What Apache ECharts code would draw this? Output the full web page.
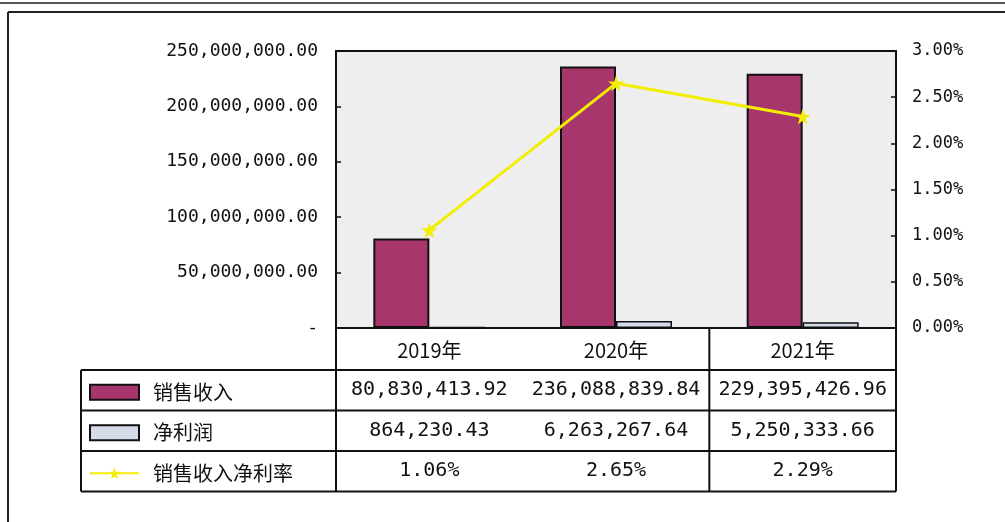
<!DOCTYPE html>
<html>
<head>
<meta charset="utf-8">
<script src="https://cdn.jsdelivr.net/npm/echarts@6/dist/echarts.min.js"></script>
<style>
html,body{margin:0;padding:0;background:#fff;}
#chart{width:1005px;height:522px;}
</style>
</head>
<body>
<div id="chart"></div>
<script>
// ---- data ----
const categories = ['2019年', '2020年', '2021年'];
const salesName = '销售收入';
const profitName = '净利润';
const rateName = '销售收入净利率';
const sales = [80830413.92, 236088839.84, 229395426.96];
const profit = [864230.43, 6263267.64, 5250333.66];
const rate = [1.06, 2.65, 2.29];           // percent
const leftTicks = [0, 50000000, 100000000, 150000000, 200000000, 250000000];
const rightTicks = [0, 0.5, 1.0, 1.5, 2.0, 2.5, 3.0];

// ---- layout ----
const G = {left: 336, right: 109, top: 51, bottom: 194};
const rowH = 40.5, headerH = 42;
const numFont = '"DejaVu Sans Mono", monospace';
const cjkFont = '"Noto Sans CJK SC", sans-serif';
const salesColor = '#a6366b', profitColor = '#d6dbea', rateColor = '#f2ee00';
const star = 'path://M50,0 L61,35 L98,35 L68,57 L79,91 L50,70 L21,91 L32,57 L2,35 L39,35 Z';

function money(v) {
  return v.toLocaleString('en-US', {minimumFractionDigits: 2, maximumFractionDigits: 2});
}
function pct(v) { return v.toFixed(2) + '%'; }

const chart = echarts.init(document.getElementById('chart'), null, {renderer: 'canvas'});

const plotBottom = 522 - G.bottom;
const rowCenters = [0, 1, 2].map(i => plotBottom + headerH + rowH * i + rowH / 2);

function legendFor(name, i, icon) {
  const l = {
    data: [name], left: 84, top: rowCenters[i] - 13, orient: 'horizontal',
    itemWidth: 49, itemHeight: 15, selectedMode: false,
    textStyle: {fontFamily: cjkFont, fontSize: 20, color: '#111', padding: [0, 0, 0, 9]}
  };
  if (icon) l.icon = icon;
  return l;
}

chart.setOption({
  animation: false,
  backgroundColor: '#fff',
  grid: {left: G.left, right: G.right, top: G.top, bottom: G.bottom, show: true,
    backgroundColor: '#eeeeee', borderColor: '#111', borderWidth: 2},
  legend: [legendFor(salesName, 0, 'rect'), legendFor(profitName, 1, 'rect'), legendFor(rateName, 2)],
  xAxis: {
    type: 'category', data: categories,
    axisLine: {lineStyle: {color: '#111', width: 2}},
    axisTick: {show: false},
    axisLabel: {margin: 12, fontFamily: cjkFont, fontSize: 20, color: '#111'}
  },
  yAxis: [{
    type: 'value', min: 0, max: 250000000, interval: 50000000,
    splitLine: {show: false},
    axisLine: {show: true, lineStyle: {color: '#111', width: 2}},
    axisTick: {show: true, inside: true, length: 5, lineStyle: {color: '#111', width: 1.5}},
    axisLabel: {margin: 18, fontFamily: numFont, fontSize: 18, color: '#111',
      formatter: v => v === 0 ? '-' : money(v)}
  }, {
    type: 'value', min: 0, max: 3, interval: 0.5,
    splitLine: {show: false},
    axisLine: {show: true, lineStyle: {color: '#111', width: 2}},
    axisTick: {show: true, inside: true, length: 5, lineStyle: {color: '#111', width: 1.5}},
    axisLabel: {margin: 16, fontFamily: numFont, fontSize: 17, color: '#111',
      formatter: v => pct(v)}
  }],
  series: [{
    name: salesName, type: 'bar', data: sales, barWidth: 56, barGap: '0%',
    itemStyle: {color: salesColor, borderColor: '#111', borderWidth: 2}
  }, {
    name: profitName, type: 'bar', data: profit, barWidth: 56, barGap: '0%',
    itemStyle: {color: profitColor, borderColor: '#111', borderWidth: 1.5}
  }, {
    name: rateName, type: 'line', yAxisIndex: 1, data: rate, z: 5,
    symbol: star, symbolSize: 16,
    lineStyle: {color: rateColor, width: 3},
    itemStyle: {color: rateColor}
  }]
});

// ---- data table drawn from the axes ----
const centers = categories.map((c, i) => chart.convertToPixel({xAxisIndex: 0}, i));
const bw = centers[1] - centers[0];
const xL = centers[0] - bw / 2, xR = centers[centers.length - 1] + bw / 2;
const y0 = chart.convertToPixel({yAxisIndex: 0}, 0);
const yH = y0 + headerH;
const yRows = [yH, yH + rowH, yH + 2 * rowH, yH + 3 * rowH];
const tableLeft = 81;
const lineStyle = {stroke: '#111', lineWidth: 2};
const els = [];
function ln(x1, y1, x2, y2) { els.push({type: 'line', shape: {x1, y1, x2, y2}, style: lineStyle, z: 10}); }
// horizontals
yRows.forEach(y => ln(tableLeft, y, xR, y));
// verticals
ln(tableLeft, yRows[0], tableLeft, yRows[3]);
ln(xL, y0, xL, yRows[3]);
ln(centers[1] + bw / 2, y0, centers[1] + bw / 2, yRows[3]);
ln(xR, y0, xR, yRows[3]);
// values
const rows = [sales.map(money), profit.map(money), rate.map(pct)];
rows.forEach((r, ri) => r.forEach((t, ci) => {
  els.push({type: 'text', x: centers[ci], y: yRows[ri] + rowH / 2, z: 11,
    style: {text: t, fontFamily: numFont, fontSize: 20, fill: '#111', align: 'center', verticalAlign: 'middle'}});
}));
// outer frame
els.push({type: 'line', shape: {x1: 0, y1: 3, x2: 1005, y2: 3}, style: {stroke: '#555', lineWidth: 2}});
els.push({type: 'line', shape: {x1: 8, y1: 12, x2: 1005, y2: 12}, style: {stroke: '#222', lineWidth: 2}});
els.push({type: 'line', shape: {x1: 8, y1: 12, x2: 8, y2: 522}, style: {stroke: '#222', lineWidth: 2}});
chart.setOption({graphic: els});
</script>
</body>
</html>
